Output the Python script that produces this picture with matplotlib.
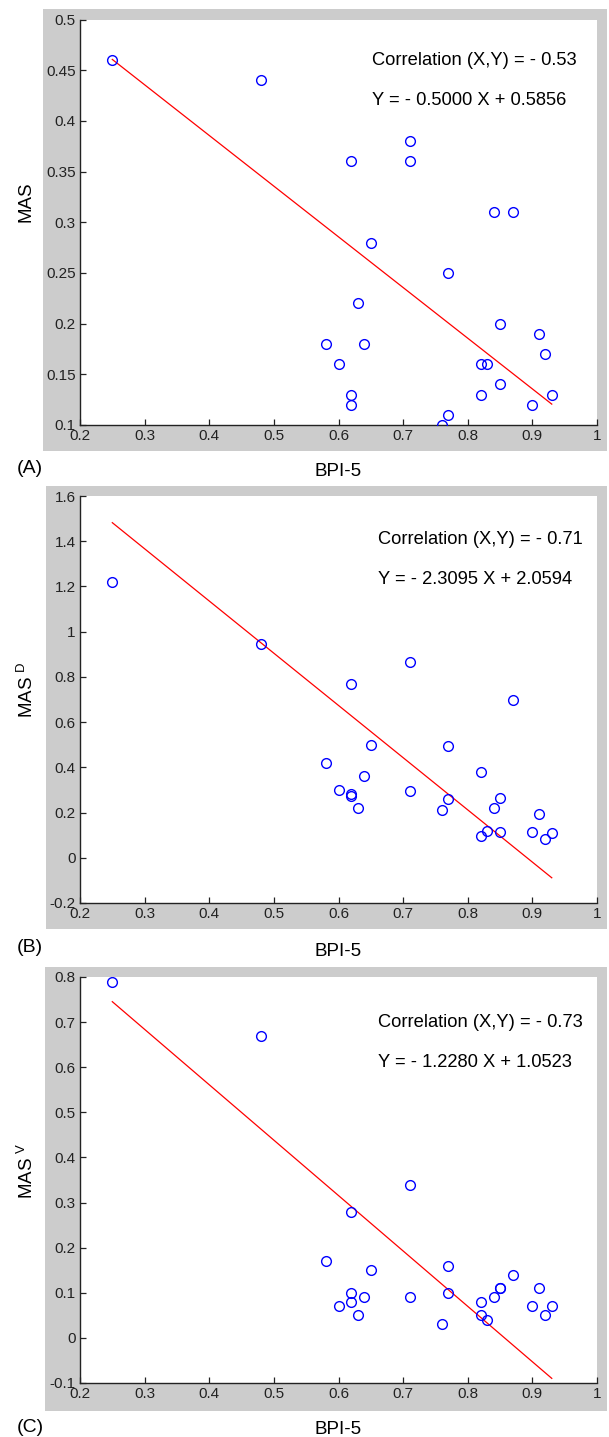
import numpy as np
import matplotlib
matplotlib.use("Agg")
import matplotlib.pyplot as plt
from matplotlib.patches import Rectangle

plt.rcParams['font.family'] = ['Liberation Sans', 'DejaVu Sans']
plt.rcParams['mathtext.fontset'] = 'custom'
plt.rcParams['mathtext.rm'] = 'Liberation Sans'

# BPI-5 values per panel
bpi_a = [0.25, 0.48, 0.62, 0.71, 0.71, 0.84, 0.87, 0.65, 0.77, 0.63, 0.85, 0.91, 0.58,
         0.64, 0.92, 0.60, 0.82, 0.83, 0.85, 0.62, 0.82, 0.93, 0.62, 0.90, 0.77, 0.76]
mas_a = [0.46, 0.44, 0.36, 0.38, 0.36, 0.31, 0.31, 0.28, 0.25, 0.22, 0.20, 0.19, 0.18,
         0.18, 0.17, 0.16, 0.16, 0.16, 0.14, 0.13, 0.13, 0.13, 0.12, 0.12, 0.11, 0.10]

bpi_b = [0.25, 0.48, 0.71, 0.62, 0.87, 0.65, 0.77, 0.58, 0.82, 0.64, 0.60, 0.71, 0.62,
         0.62, 0.85, 0.77, 0.63, 0.84, 0.76, 0.91, 0.83, 0.85, 0.90, 0.93, 0.82, 0.92]
mas_b = [1.22, 0.945, 0.865, 0.77, 0.70, 0.50, 0.495, 0.42, 0.38, 0.36, 0.30, 0.295, 0.28,
         0.275, 0.265, 0.26, 0.22, 0.22, 0.21, 0.195, 0.12, 0.115, 0.115, 0.11, 0.095, 0.085]

bpi_c = [0.25, 0.48, 0.71, 0.62, 0.58, 0.77, 0.65, 0.87, 0.85, 0.91, 0.62, 0.77, 0.64,
         0.71, 0.84, 0.62, 0.82, 0.60, 0.90, 0.93, 0.63, 0.82, 0.92, 0.83, 0.76, 0.85]
mas_c = [0.79, 0.67, 0.34, 0.28, 0.17, 0.16, 0.15, 0.14, 0.11, 0.11, 0.10, 0.10, 0.09,
         0.09, 0.09, 0.08, 0.08, 0.07, 0.07, 0.07, 0.05, 0.05, 0.05, 0.04, 0.03, 0.11]

# regression coefficients (slope, intercept) and correlations
slopes = [-0.5000, -2.3095, -1.2280]
intercepts = [0.5856, 2.0594, 1.0523]
corrs = ['- 0.53', '- 0.71', '- 0.73']

xticks = [0.2, 0.3, 0.4, 0.5, 0.6, 0.7, 0.8, 0.9, 1.0]
xtick_labels = ['0.2', '0.3', '0.4', '0.5', '0.6', '0.7', '0.8', '0.9', '1']
yticks_a = [0.1, 0.15, 0.2, 0.25, 0.3, 0.35, 0.4, 0.45, 0.5]
ytick_labels_a = ['0.1', '0.15', '0.2', '0.25', '0.3', '0.35', '0.4', '0.45', '0.5']
yticks_b = [-0.2, 0, 0.2, 0.4, 0.6, 0.8, 1.0, 1.2, 1.4, 1.6]
ytick_labels_b = ['-0.2', '0', '0.2', '0.4', '0.6', '0.8', '1', '1.2', '1.4', '1.6']
yticks_c = [-0.1, 0, 0.1, 0.2, 0.3, 0.4, 0.5, 0.6, 0.7, 0.8]
ytick_labels_c = ['-0.1', '0', '0.1', '0.2', '0.3', '0.4', '0.5', '0.6', '0.7', '0.8']

ylabels = ['MAS', r'MAS$^{\ \mathrm{D}}$', r'MAS$^{\ \mathrm{V}}$']
panel_tags = ['(A)', '(B)', '(C)']

W, H = 609, 1437
fig = plt.figure(figsize=(W / 100, H / 100), dpi=100)

# pixel layout: axes (left, right, top, bottom), gray box (left, right, top, bottom)
axes_px = [(80, 597, 19.5, 425), (80, 597, 496, 903), (80, 597, 977, 1383)]
gray_px = [(43, 607, 9, 451), (46, 607, 486, 929), (45, 607, 967, 1411)]
ylabel_pos = [0.55, 0.523, 0.522]
text_pos = [(0.565, 0.90, 0.80), (0.576, 0.894, 0.796), (0.576, 0.889, 0.79)]
label_y = [468, 948, 1427]

panels = [(bpi_a, mas_a, yticks_a, ytick_labels_a),
          (bpi_b, mas_b, yticks_b, ytick_labels_b),
          (bpi_c, mas_c, yticks_c, ytick_labels_c)]

for i, (xs, ys, yt, ytl) in enumerate(panels):
    gl, gr, gt, gb = gray_px[i]
    fig.patches.append(Rectangle((gl / W, 1 - gb / H), (gr - gl) / W, (gb - gt) / H,
                                 transform=fig.transFigure, facecolor='#cccccc',
                                 edgecolor='none', zorder=-10))
    al, ar, at, ab = axes_px[i]
    ax = fig.add_axes([al / W, 1 - ab / H, (ar - al) / W, (ab - at) / H])
    ax.set_zorder(2)
    ax.set_facecolor('white')

    ax.plot(xs, ys, 'o', mfc='none', mec='#0000ff', ms=7, mew=1.0, zorder=3)
    xl = np.array([min(xs), max(xs)])
    ax.plot(xl, slopes[i] * xl + intercepts[i], color='red', lw=0.9, zorder=2)

    ax.set_xlim(0.2, 1.0)
    ax.set_ylim(yt[0], yt[-1])
    ax.set_xticks(xticks)
    ax.set_xticklabels(xtick_labels)
    ax.set_yticks(yt)
    ax.set_yticklabels(ytl)
    ax.tick_params(direction='in', length=4, width=0.9, labelsize=11,
                   colors='#222222', pad=3)
    for s in ['top', 'right']:
        ax.spines[s].set_visible(False)
    for s in ['left', 'bottom']:
        ax.spines[s].set_linewidth(1.0)
        ax.spines[s].set_color('#222222')

    tx, ty1, ty2 = text_pos[i]
    ax.text(tx, ty1, 'Correlation (X,Y) = ' + corrs[i], transform=ax.transAxes,
            fontsize=13.2, va='center', ha='left')
    eq = 'Y = - %.4f X + %.4f' % (abs(slopes[i]), intercepts[i])
    ax.text(tx, ty2, eq, transform=ax.transAxes, fontsize=13.2, va='center', ha='left')

    ax.text(-0.104, ylabel_pos[i], ylabels[i], transform=ax.transAxes, rotation=90,
            fontsize=13.5, va='center', ha='center')

    fig.text(30 / W, 1 - label_y[i] / H, panel_tags[i], fontsize=14, ha='center', va='center')
    fig.text(338 / W, 1 - (label_y[i] + 3) / H, 'BPI-5', fontsize=13.5, ha='center', va='center')

fig.savefig('out.png', dpi=100)
